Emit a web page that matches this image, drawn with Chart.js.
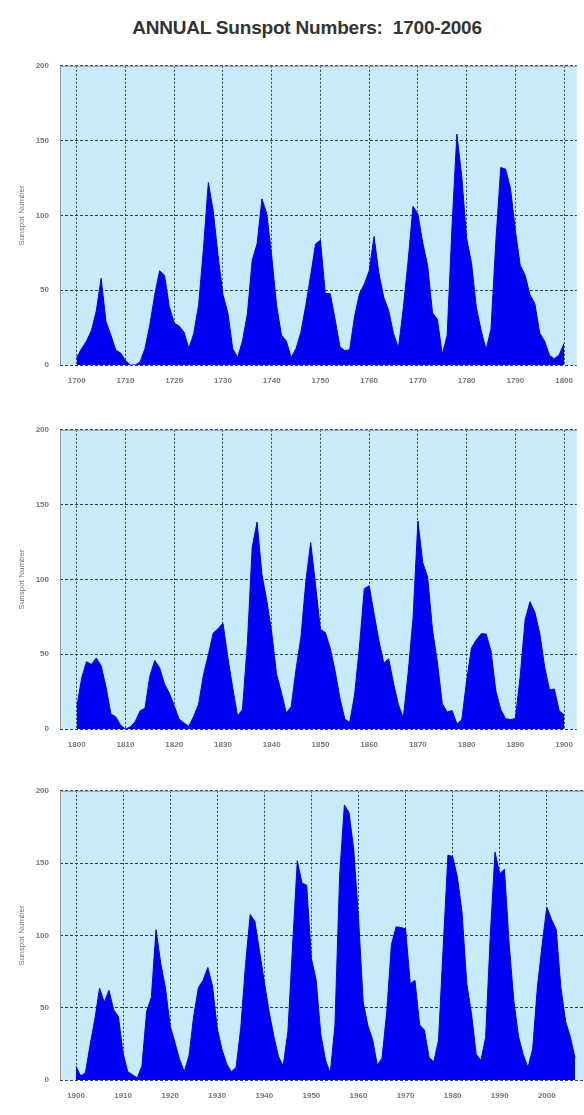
<!DOCTYPE html>
<html>
<head>
<meta charset="utf-8">
<script src="https://cdn.jsdelivr.net/npm/chart.js@4"></script>
<style>
  html, body { margin: 0; padding: 0; background: #fff; }
  body { width: 584px; height: 1115px; position: relative; overflow: hidden; }
  #title {
    position: absolute; top: 17px; left: 0; width: 614px; text-align: center;
    font-family: "Liberation Sans", Arial, sans-serif;
    font-weight: bold; font-size: 19px; color: #333; letter-spacing: -0.2px;
  }
  .panel { position: absolute; left: 0; width: 584px; }
</style>
</head>
<body>
<div id="title">ANNUAL Sunspot Numbers:&nbsp; 1700-2006</div>
<div class="panel" style="top:50px;height:350px"><canvas id="c1"></canvas></div>
<div class="panel" style="top:414px;height:350px"><canvas id="c2"></canvas></div>
<div class="panel" style="top:775px;height:340px"><canvas id="c3"></canvas></div>
<script>
// annual mean sunspot numbers, read per year
const spots1700 = [5, 11, 16, 23, 36, 58, 29, 20, 10, 8, 3, 0, 0, 2, 11, 27, 47, 63, 60, 39,
  28, 26, 22, 11, 21, 40, 78, 122, 103, 73, 47, 35, 11, 5, 16, 34, 70, 81, 111, 101,
  73, 40, 20, 16, 5, 11, 22, 40, 60, 80.9, 83.4, 47.7, 47.8, 30.7, 12.2, 9.6, 10.2, 32.4, 47.6, 54,
  62.9, 85.9, 61.2, 45.1, 36.4, 20.9, 11.4, 37.8, 69.8, 106.1, 100.8, 81.6, 66.5, 34.8, 30.6, 7, 19.8, 92.5, 154.4, 125.9,
  84.8, 68.1, 38.5, 22.8, 10.2, 24.1, 82.9, 132, 130.9, 118.1, 89.9, 66.6, 60, 46.9, 41, 21.3, 16, 6.4, 4.1, 6.8];
const spots1800 = [14.5, 34, 45, 43.1, 47.5, 42.2, 28.1, 10.1, 8.1, 2.5, 0, 1.4, 5, 12.2, 13.9, 35.4, 45.8, 41, 30.1, 23.9,
  15.6, 6.6, 4, 1.8, 8.5, 16.6, 36.3, 49.6, 64.2, 67, 70.9, 47.8, 27.5, 8.5, 13.2, 56.9, 121.5, 138.3, 103.2, 85.7,
  64.6, 36.7, 24.2, 10.7, 15, 40.1, 61.5, 98.5, 124.7, 96.3, 66.6, 64.5, 54.1, 39, 20.6, 6.7, 4.3, 22.7, 54.8, 93.8,
  95.8, 77.2, 59.1, 44, 47, 30.5, 16.3, 7.3, 37.6, 74, 139, 111.2, 101.6, 66.2, 44.7, 17, 11.3, 12.4, 3.4, 6,
  32.3, 54.3, 59.7, 63.7, 63.5, 52.2, 25.4, 13.1, 6.8, 6.3, 7.1, 35.6, 73, 85.1, 78, 64, 41.8, 26.2, 26.7, 12.1];
const spots1900 = [9.5, 2.7, 5, 24.4, 42, 63.5, 53.8, 62, 48.5, 43.9, 18.6, 5.7, 3.6, 1.4, 9.6, 47.4, 57.1, 103.9, 80.6, 63.6,
  37.6, 26.1, 14.2, 5.8, 16.7, 44.3, 63.9, 69, 77.8, 64.9, 35.7, 21.2, 11.1, 5.7, 8.7, 36.1, 79.7, 114.4, 109.6, 88.8,
  67.8, 47.5, 30.6, 16.3, 9.6, 33.2, 92.6, 151.6, 136.3, 134.7, 83.9, 69.4, 31.5, 13.9, 4.4, 38, 141.7, 190.2, 184.8, 159,
  112.3, 53.9, 37.6, 27.9, 10.2, 15.1, 47, 93.8, 105.9, 105.5, 104.5, 66.6, 68.9, 38, 34.5, 15.5, 12.6, 27.5, 92.5, 155.4,
  154.6, 140.4, 115.9, 66.6, 45.9, 17.9, 13.4, 29.4, 100.2, 157.6, 142.6, 145.7, 94.3, 54.6, 29.9, 17.5, 8.6, 21.5, 64.3, 93.3,
  119.6, 111, 104, 63.7, 40.4, 29.8, 15.2];
const yTicks = [0, 50, 100, 150, 200];

const plotBg = {
  id: "plotBg",
  beforeDraw(chart) {
    const { ctx, chartArea: a } = chart;
    ctx.save();
    ctx.fillStyle = "#c9ebf9";
    ctx.fillRect(a.left, a.top, a.right - a.left, a.bottom - a.top);
    ctx.restore();
  },
  afterDraw(chart) {
    const { ctx, chartArea: a } = chart;
    ctx.save();
    ctx.strokeStyle = "#9a9a9a";
    ctx.lineWidth = 1;
    ctx.beginPath();
    ctx.moveTo(a.left + 0.5, a.bottom);
    ctx.lineTo(a.left + 0.5, a.top + 0.5);
    ctx.lineTo(a.right, a.top + 0.5);
    ctx.stroke();
    ctx.restore();
  },
};

function makePanel(id, startYear, values, xMin, xMax, xTicks) {
  const points = values.map((v, i) => ({ x: startYear + i, y: v }));
  const tickFont = { family: "Liberation Sans", size: 8, weight: "bold" };
  new Chart(document.getElementById(id), {
    type: "line",
    data: {
      datasets: [{
        data: points,
        fill: "origin",
        backgroundColor: "#0000f4",
        borderColor: "#0000f4",
        borderWidth: 1,
        pointRadius: 0,
        tension: 0,
      }],
    },
    options: {
      responsive: true,
      maintainAspectRatio: false,
      animation: false,
      layout: { padding: { top: 15, right: 0, left: 0, bottom: 0 } },
      plugins: { legend: { display: false }, tooltip: { enabled: false } },
      scales: {
        x: {
          type: "linear",
          min: xMin,
          max: xMax,
          afterBuildTicks: (scale) => { scale.ticks = xTicks.map((v) => ({ value: v })); },
          afterFit: (scale) => { scale.height = 35; },
          grid: { color: "#23405c", drawTicks: false },
          border: { display: false, dash: [2, 2] },
          ticks: { font: tickFont, color: "#777", padding: 11, maxRotation: 0, callback: (v) => String(v) },
        },
        y: {
          min: 0,
          max: 200,
          afterBuildTicks: (scale) => { scale.ticks = yTicks.map((v) => ({ value: v })); },
          afterFit: (scale) => { scale.width = 60; },
          grid: { color: "#23405c", drawTicks: false },
          border: { display: false, dash: [3, 2] },
          ticks: { font: tickFont, color: "#777", padding: 11 },
          title: {
            display: true,
            text: "Sunspot Number",
            font: { family: "Liberation Sans", size: 8 },
            color: "#777",
            padding: { top: 17, bottom: 0 },
          },
        },
      },
    },
    plugins: [plotBg],
  });
}

const decades1 = [1700, 1710, 1720, 1730, 1740, 1750, 1760, 1770, 1780, 1790, 1800];
const decades2 = [1800, 1810, 1820, 1830, 1840, 1850, 1860, 1870, 1880, 1890, 1900];
const decades3 = [1900, 1910, 1920, 1930, 1940, 1950, 1960, 1970, 1980, 1990, 2000];

makePanel("c1", 1700, spots1700.concat([spots1800[0]]), 1696.56, 1802.6, decades1);
makePanel("c2", 1800, spots1800.concat([spots1900[0]]), 1796.56, 1902.6, decades2);
makePanel("c3", 1900, spots1900, 1896.6, 2007.9, decades3);
</script>
</body>
</html>
